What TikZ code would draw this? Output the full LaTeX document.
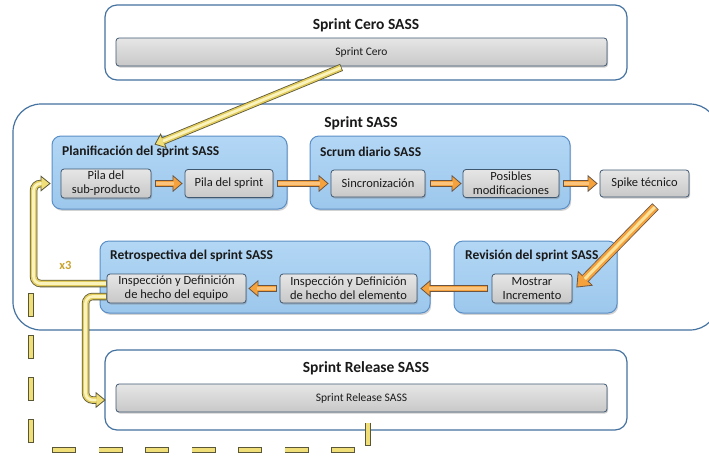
\documentclass[tikz,border=0pt]{standalone}
\usepackage{fontspec}
\setmainfont{Carlito}
\usetikzlibrary{arrows.meta,shadows,calc}
\definecolor{boxline}{HTML}{4472A0}
\definecolor{panelline}{HTML}{5B8FC7}
\definecolor{panelTop}{HTML}{B3D7F5}
\definecolor{panelBot}{HTML}{9CC7EC}
\definecolor{grayTop}{HTML}{E6E6E6}
\definecolor{grayBot}{HTML}{C8C8C8}
\definecolor{grayline}{HTML}{3F5872}
\definecolor{txt}{HTML}{1A1A1A}
\definecolor{ylw}{HTML}{F0DF78}
\definecolor{ylwmid}{HTML}{E2CC5C}
\definecolor{ylwlight}{HTML}{FAF3BE}
\definecolor{ylwline}{HTML}{5A5638}
\definecolor{org}{HTML}{F6A23C}
\definecolor{orglight}{HTML}{FBC47E}
\definecolor{orgpale}{HTML}{FBE29A}
\definecolor{orgline}{HTML}{6A5545}
\definecolor{gold}{HTML}{C9A42E}
\tikzset{
  outerbox/.style={draw=boxline,line width=1.2pt,rounded corners=12pt,fill=white,inner sep=0pt},
  panel/.style={draw=panelline,line width=1pt,rounded corners=9pt,top color=panelTop,bottom color=panelBot,inner sep=0pt,
    drop shadow={shadow xshift=1.2pt,shadow yshift=-1.8pt,opacity=.35}},
  stepbox/.style={draw=grayline,line width=.8pt,rounded corners=3pt,top color=grayTop,bottom color=grayBot,inner sep=1pt,
    align=center,font=\fontsize{12.5}{14}\selectfont,text=txt,
    drop shadow={shadow xshift=1pt,shadow yshift=-1.5pt,opacity=.4}},
  barbox/.style={stepbox,font=\fontsize{11.5}{13}\selectfont},
  bigtitle/.style={font=\fontsize{15.5}{18}\selectfont\bfseries,text=txt,inner sep=0pt},
  ptitle/.style={font=\fontsize{13.5}{16}\selectfont\bfseries,text=txt,anchor=west,inner sep=0pt},
  oout/.style={draw=orgline,line width=7.5pt,-{Triangle[length=10pt,width=17pt,fill=org,color=orgline,line width=.8pt]}},
  oin/.style={draw=org,line width=5.9pt,shorten >=9pt,shorten <=.8pt},
  ohi/.style={draw=orglight,line width=2.2pt,shorten >=9pt,shorten <=.8pt},
  bout/.style={draw=orgline,line width=9pt,-{Triangle[length=13pt,width=21pt,fill=org,color=orgline,line width=.8pt]}},
  bin/.style={draw=org,line width=7.4pt,shorten >=12pt,shorten <=.8pt},
  bhi/.style={draw=orgpale,line width=3pt,shorten >=12pt,shorten <=.8pt},
  yout/.style={draw=ylwline,line width=7.5pt,-{Triangle[length=10pt,width=16pt,fill=ylw,color=ylwline,line width=.8pt]}},
  yin/.style={draw=ylwmid,line width=5.9pt,shorten >=9pt,shorten <=.8pt},
  yhi/.style={draw=ylwlight,line width=2.8pt,shorten >=9pt,shorten <=.8pt},
  dout/.style={draw=ylwline,line width=6.4pt},
  din/.style={draw=ylw,line width=4.8pt},
}
\newcommand{\OrArrow}[1]{\draw[oout] #1;\draw[oin] #1;\draw[ohi] #1;}
\newcommand{\BigArrow}[1]{\draw[bout] #1;\draw[bin] #1;\draw[bhi] #1;}
\newcommand{\YeArrow}[1]{\draw[yout] #1;\draw[yin] #1;\draw[yhi] #1;}
\begin{document}
\begin{tikzpicture}[x=1pt,y=-1pt]
\useasboundingbox (0,0) rectangle (709,456);
% Sprint Cero
\node[outerbox,minimum width=522pt,minimum height=75pt] (cerobox) at (366,42.5) {};
\node[bigtitle] (cerotitle) at (366,25) {Sprint Cero SASS};
\node[barbox,minimum width=491pt,minimum height=28pt] (cerobar) at (361.5,52) {Sprint Cero};
% Sprint SASS
\node[outerbox,rounded corners=28pt,minimum width=705pt,minimum height=226pt] (sprintbox) at (365.5,217) {};
\node[bigtitle] (sprinttitle) at (361,123) {Sprint SASS};
% Planificacion
\node[panel,minimum width=235pt,minimum height=73pt] (plan) at (169.5,172.5) {};
\node[ptitle] (plantitle) at (62,152) {Planificación del sprint SASS};
\node[stepbox,minimum width=90pt,minimum height=29pt] (pilasub) at (106,183.5) {Pila del\\sub-producto};
\node[stepbox,minimum width=88pt,minimum height=28pt] (pilasprint) at (229,183.5) {Pila del sprint};
% Scrum
\node[panel,minimum width=260pt,minimum height=73pt] (scrum) at (440,172.5) {};
\node[ptitle] (scrumtitle) at (320,152) {Scrum diario SASS};
\node[stepbox,minimum width=94pt,minimum height=27pt] (sinc) at (378,183.5) {Sincronización};
\node[stepbox,minimum width=96pt,minimum height=28pt] (posibles) at (511,183.5) {Posibles\\modificaciones};
\node[stepbox,minimum width=89pt,minimum height=27pt] (spike) at (644.5,183.5) {Spike técnico};
% Revision
\node[panel,minimum width=163pt,minimum height=72pt] (rev) at (535.5,277) {};
\node[ptitle] (revtitle) at (465,256) {Revisión del sprint SASS};
\node[stepbox,minimum width=80pt,minimum height=29pt] (mostrar) at (532,288.5) {Mostrar\\Incremento};
% Retrospectiva
\node[panel,minimum width=330pt,minimum height=72pt] (retro) at (265,277) {};
\node[ptitle] (retrotitle) at (110,256) {Retrospectiva del sprint SASS};
\node[stepbox,minimum width=139pt,minimum height=29pt] (equipo) at (176.5,288.5) {Inspección y Definición\\de hecho del equipo};
\node[stepbox,minimum width=137pt,minimum height=29pt] (elemento) at (348.5,288.5) {Inspección y Definición\\de hecho del elemento};
% Release
\node[outerbox,minimum width=522pt,minimum height=80pt] (relbox) at (366,390) {};
\node[bigtitle] (reltitle) at (366,368) {Sprint Release SASS};
\node[barbox,minimum width=491pt,minimum height=28pt] (relbar) at (361.5,398) {Sprint Release SASS};
% x3
\node[font=\fontsize{12.5}{14}\selectfont\bfseries,text=gold,inner sep=0pt] (xthree) at (65.5,265) {x3};
% orange arrows
\OrArrow{($(pilasub.east)+(4,0)$) -- ($(pilasprint.west)+(-2,0)$)}
\OrArrow{($(pilasprint.east)+(4,0)$) -- ($(sinc.west)+(-2,0)$)}
\OrArrow{($(sinc.east)+(5,0)$) -- ($(posibles.west)+(-1,0)$)}
\OrArrow{($(posibles.east)+(4,0)$) -- ($(spike.west)+(-2,0)$)}
\OrArrow{($(mostrar.west)+(-4,0)$) -- ($(elemento.east)+(3,0)$)}
\OrArrow{($(elemento.west)+(-3,0)$) -- ($(equipo.east)+(2,0)$)}
% spike to review
\BigArrow{($(spike.south)+(11,9)$) -- ($(mostrar.east)+(4,-1)$)}
% yellow arrows
\YeArrow{($(cerobar.south)+(-20,1)$) -- ($(plan.north west)+(103,9)$)}
\YeArrow{[rounded corners=7pt] ($(equipo.west)+(0,-5)$) -| ($(pilasub.west)+(-27,0)$) -- ($(pilasub.west)+(-10,0)$)}
\YeArrow{[rounded corners=7pt] ($(equipo.west)+(0,8)$) -| ($(relbar.west)+(-30,2)$) -- ($(relbar.west)+(-10,2)$)}
% dashed return connector
\coordinate (dA1) at ($(relbox.south)+(2,-8)$);
\coordinate (dA2) at ($(relbox.south)+(2,15)$);
\coordinate (dB1) at (355,450);
\coordinate (dB2) at (52,450);
\coordinate (dC1) at (31,443);
\coordinate (dC2) at (31,293);
\draw[dout] (dA1) -- (dA2);
\draw[din,shorten <=.8pt,shorten >=.8pt] (dA1) -- (dA2);
\draw[dout,dash pattern=on 24pt off 22.5pt] (dB1) -- (dB2);
\draw[din,dash pattern=on 22.4pt off 24.1pt,dash phase=45.7pt] (dB1) -- (dB2);
\draw[dout,dash pattern=on 24pt off 18pt] (dC1) -- (dC2);
\draw[din,dash pattern=on 22.4pt off 19.6pt,dash phase=41.2pt] (dC1) -- (dC2);
\end{tikzpicture}
\end{document}
